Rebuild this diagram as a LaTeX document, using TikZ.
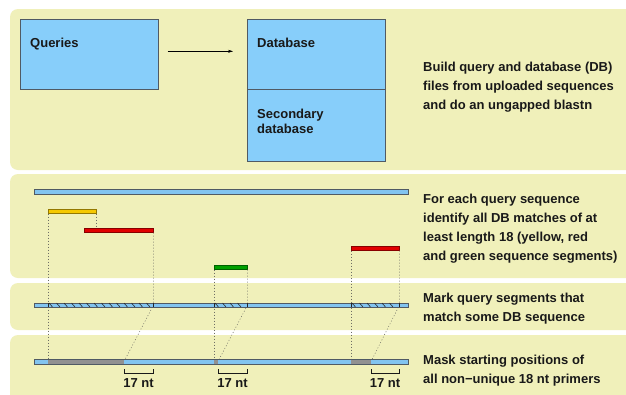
\documentclass[tikz,border=0pt]{standalone}
\usepackage{fontspec}
\setmainfont{Liberation Sans}
\usetikzlibrary{arrows.meta}
\definecolor{panelc}{RGB}{240,240,186}
\definecolor{boxblue}{RGB}{135,206,250}
\definecolor{barblue}{RGB}{130,196,240}
\definecolor{edge}{RGB}{80,90,100}
\definecolor{txt}{RGB}{25,25,25}
\definecolor{dotc}{RGB}{110,110,100}
\definecolor{maskc}{RGB}{145,145,145}
\definecolor{segyellow}{RGB}{245,200,0}
\definecolor{segred}{RGB}{225,0,0}
\definecolor{seggreen}{RGB}{0,160,0}
\begin{document}
\begin{tikzpicture}[x=1pt,y=-1pt,
  panel/.style={fill=panelc, rounded corners=8pt},
  bigbox/.style={draw=edge, fill=boxblue, line width=0.6pt, inner sep=0, anchor=north west},
  lbl/.style={font=\bfseries\fontsize{13}{19}\selectfont, text=txt, align=left, anchor=base west, inner sep=0},
  boxlbl/.style={font=\bfseries\fontsize{13}{15}\selectfont, text=txt, align=left, anchor=base west, inner sep=0},
  bar/.style={draw=edge, fill=barblue, line width=0.5pt, inner sep=0, minimum height=4.5pt, minimum width=374pt, anchor=west},
  seg/.style={draw=#1!60!black, fill=#1, line width=0.5pt, inner sep=0, minimum height=4.5pt, anchor=north west},
  dotline/.style={draw=dotc, line width=0.5pt, dash pattern=on 1pt off 2pt},
  hatch/.style={draw=black!85, line width=0.6pt},
  bracket/.style={draw=txt, line width=0.6pt}
]
\useasboundingbox (0,0) rectangle (626,394);
\fill[white] (0,0) rectangle (626,394);
% panels
\path[panel] (10,9) rectangle (660,170);
\path[panel] (10,174) rectangle (660,278);
\path[panel] (10,283) rectangle (660,330);
\path[panel] (10,335) rectangle (660,420);

% panel 1
\node[bigbox, minimum width=138pt, minimum height=70pt] (q) at (20,19) {};
\node[bigbox, minimum width=138pt, minimum height=70pt] (db) at (247,19) {};
\node[bigbox, minimum width=138pt, minimum height=72pt] (sdb) at (247,89) {};
\node[boxlbl] (qt) at (30,47) {Queries};
\node[boxlbl] (dbt) at (257,47) {Database};
\node[boxlbl] (sdbt) at (257,133) {Secondary\\database};
\draw[line width=0.5pt, -{Stealth[length=5pt,width=3pt]}] ([shift={(9,-3)}]q.east) -- ([shift={(-14,-3)}]db.west);
\node[lbl] (t1) at (423,109) {Build query and database (DB)\\files from uploaded sequences\\and do an ungapped blastn};

% coordinates
\coordinate (qbar) at (34,191.5);
\coordinate (hbar) at (34,305);
\coordinate (mbar) at (34,361.5);

% segments
\node[seg=segyellow, minimum width=48pt] (ys) at (48,208.5) {};
\node[seg=segred, minimum width=69pt] (r1) at (84,227.5) {};
\node[seg=seggreen, minimum width=33pt] (gs) at (214,264.5) {};
\node[seg=segred, minimum width=48pt] (r2) at (351,245.5) {};

\coordinate (m1) at (124,361.5);
\coordinate (m2) at (218,361.5);
\coordinate (m3) at (371,361.5);

% dotted connectors
\draw[dotline] (ys.south west) -- (ys.south west |- mbar);
\draw[dotline] (ys.south east) -- (ys.south east |- r1.north);
\draw[dotline] (r1.south east) -- (r1.south east |- hbar) -- (m1);
\draw[dotline] (gs.south west) -- (gs.south west |- mbar);
\draw[dotline] (gs.south east) -- (gs.south east |- hbar) -- (m2);
\draw[dotline] (r2.south west) -- (r2.south west |- mbar);
\draw[dotline] (r2.south east) -- (r2.south east |- hbar) -- (m3);

% bars
\node[bar] (qb) at (qbar) {};
\node[bar] (hb) at (hbar) {};
\node[bar] (mb) at (mbar) {};

% hatching
\foreach \a/\b in {48/153, 214/247, 351/399} {
  \draw[hatch] (\a,302.75) -- (\a,307.25);
  \draw[hatch] (\b,302.75) -- (\b,307.25);
  \pgfmathtruncatemacro{\nn}{(\b-\a-5)/7.5}
  \foreach \i in {0,...,\nn} {
    \draw[hatch] ({\a+\i*7.5+1},303.0) -- ({\a+\i*7.5+4.5},307.0);
  }
}

% masks
\fill[maskc] (48,359.5) rectangle (124,363.5);
\fill[maskc] (214,359.5) rectangle (218,363.5);
\fill[maskc] (351,359.5) rectangle (371,363.5);

% brackets
\foreach \a/\b/\n in {124/153/k1, 218/247/k2, 371/399/k3} {
  \draw[bracket] (\a,369) -- (\a,373) -- (\b,373) -- (\b,369);
  \node[font=\bfseries\fontsize{13}{15}\selectfont, text=txt, anchor=base, inner sep=0] (\n) at ({(\a+\b)/2},387) {17 nt};
}

% right texts
\node[lbl] (t2) at (423,260) {For each query sequence\\identify all DB matches of at\\least length 18 (yellow, red\\and green sequence segments)};
\node[lbl] (t3) at (423,321) {Mark query segments that\\match some DB sequence};
\node[lbl] (t4) at (423,383) {Mask starting positions of\\all non−unique 18 nt primers};
\end{tikzpicture}
\end{document}
